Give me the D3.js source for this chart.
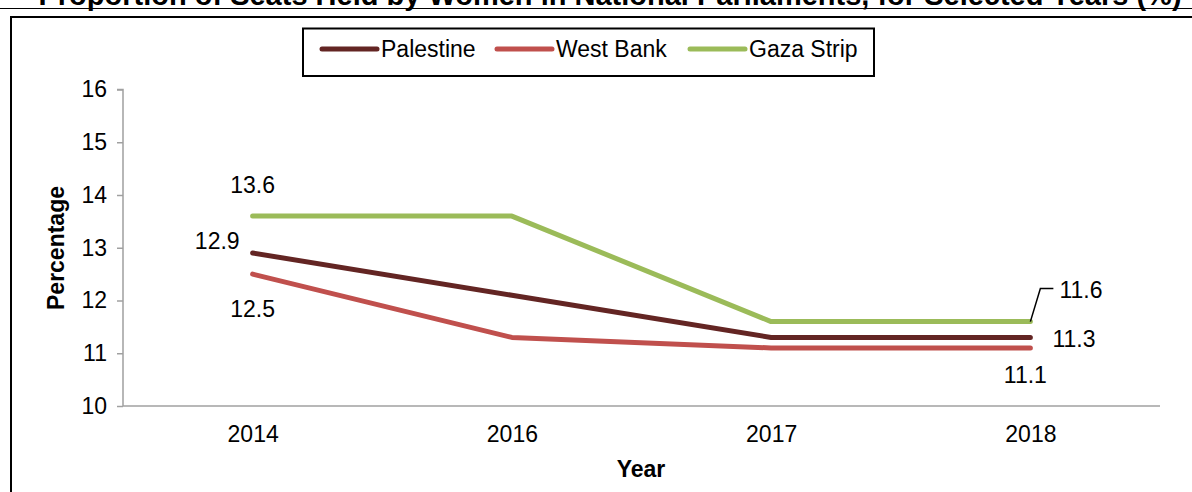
<!DOCTYPE html>
<html><head><meta charset="utf-8">
<script src="https://cdn.jsdelivr.net/npm/d3@7"></script>
<style>body{margin:0;background:#fff;}svg{display:block;font-family:"Liberation Sans",Arial,sans-serif;}</style>
</head><body>
<svg id="c" width="1192" height="492"></svg>
<script>
const title = "Proportion of Seats Held by Women in National Parliaments, for Selected Years (%)";
const years = ["2014", "2016", "2017", "2018"];
const palestine = [12.9, 12.1, 11.3, 11.3];
const westBank = [12.5, 11.3, 11.1, 11.1];
const gaza = [13.6, 13.6, 11.6, 11.6];
const seriesNames = ["Palestine", "West Bank", "Gaza Strip"];
const seriesColors = ["#632523", "#c0504d", "#9bbb59"];
const yTicks = [10, 11, 12, 13, 14, 15, 16];

const FS = 23;
const svg = d3.select("#c");
const x = d3.scalePoint().domain(years).range([123, 1160]).padding(0.5);
const y = d3.scaleLinear().domain([10, 16]).range([406, 89.5]);

// title (cut off at top) and underline
svg.append("text").attr("x", 610).attr("y", 5).attr("text-anchor", "middle")
  .attr("font-weight", "bold").attr("font-size", 29).text(title);
svg.append("line").attr("x1", 0).attr("x2", 1192).attr("y1", 8.5).attr("y2", 8.5).attr("stroke", "#000").attr("stroke-width", 1);
// frame
svg.append("path").attr("d", "M11,492V17H1192").attr("fill", "none").attr("stroke", "#000").attr("stroke-width", 2);

// axes
const yAxis = d3.axisLeft(y).tickValues(yTicks).tickSize(6).tickPadding(10).tickFormat(d3.format("d"));
const gy = svg.append("g").attr("transform", "translate(123,0)").call(yAxis);
gy.select(".domain").attr("stroke", "#a0a0a0").attr("stroke-width", 1.5).attr("d", `M-6,${y(16)}H0V${y(10)}`);
gy.selectAll(".tick line").attr("stroke", "#a0a0a0").attr("stroke-width", 1.5);
gy.selectAll(".tick text").attr("font-size", FS).attr("fill", "#000").attr("font-family", "Liberation Sans, Arial, sans-serif");

const xAxis = d3.axisBottom(x).tickSize(0).tickPadding(20);
const gx = svg.append("g").attr("transform", `translate(0,${y(10)})`).call(xAxis);
gx.select(".domain").attr("stroke", "#a0a0a0").attr("stroke-width", 1.5).attr("d", `M123,0H1160`);
gx.selectAll(".tick text").attr("font-size", FS).attr("fill", "#000").attr("font-family", "Liberation Sans, Arial, sans-serif");

svg.append("text").attr("x", 641).attr("y", 477).attr("text-anchor", "middle")
  .attr("font-weight", "bold").attr("font-size", FS).text("Year");
svg.append("text").attr("transform", "translate(64,248) rotate(-90)").attr("text-anchor", "middle")
  .attr("font-weight", "bold").attr("font-size", FS).text("Percentage");

// lines
const data = [palestine, westBank, gaza];
const line = d3.line().x((d, i) => x(years[i])).y(d => y(d));
[2, 0, 1].forEach(k => {
  svg.append("path").attr("d", line(data[k])).attr("fill", "none")
    .attr("stroke", seriesColors[k]).attr("stroke-width", 5).attr("stroke-linecap", "round").attr("stroke-linejoin", "round");
});

// data labels
function lab(xx, yy, txt, anchor) {
  svg.append("text").attr("x", xx).attr("y", yy).attr("text-anchor", anchor || "middle")
    .attr("font-size", FS).text(txt);
}
lab(x("2014"), y(gaza[0]) - 23, gaza[0].toFixed(1));
lab(x("2014") - 13, y(palestine[0]) - 4, palestine[0].toFixed(1), "end");
lab(x("2014"), y(westBank[0]) + 43, westBank[0].toFixed(1));
lab(x("2018") + 22, y(palestine[3]) + 10, palestine[3].toFixed(1), "start");
lab(x("2018") - 5, y(westBank[3]) + 35, westBank[3].toFixed(1));
lab(x("2018") + 29, y(gaza[3]) - 24, gaza[3].toFixed(1), "start");
svg.append("path").attr("d", `M${x("2018")},${y(gaza[3])}L${x("2018") + 10},${y(gaza[3]) - 33}H${x("2018") + 23}`)
  .attr("fill", "none").attr("stroke", "#000").attr("stroke-width", 1.5);

// legend
svg.append("rect").attr("x", 303).attr("y", 28.5).attr("width", 571).attr("height", 47.5).attr("fill", "#fff").attr("stroke", "#000").attr("stroke-width", 2);
const legX = [322, 497, 690];
seriesNames.forEach((n, i) => {
  svg.append("line").attr("x1", legX[i]).attr("x2", legX[i] + 55).attr("y1", 49).attr("y2", 49)
    .attr("stroke", seriesColors[i]).attr("stroke-width", 5).attr("stroke-linecap", "round");
  svg.append("text").attr("x", legX[i] + 59).attr("y", 57).attr("font-size", FS).text(n);
});
</script>
</body></html>
